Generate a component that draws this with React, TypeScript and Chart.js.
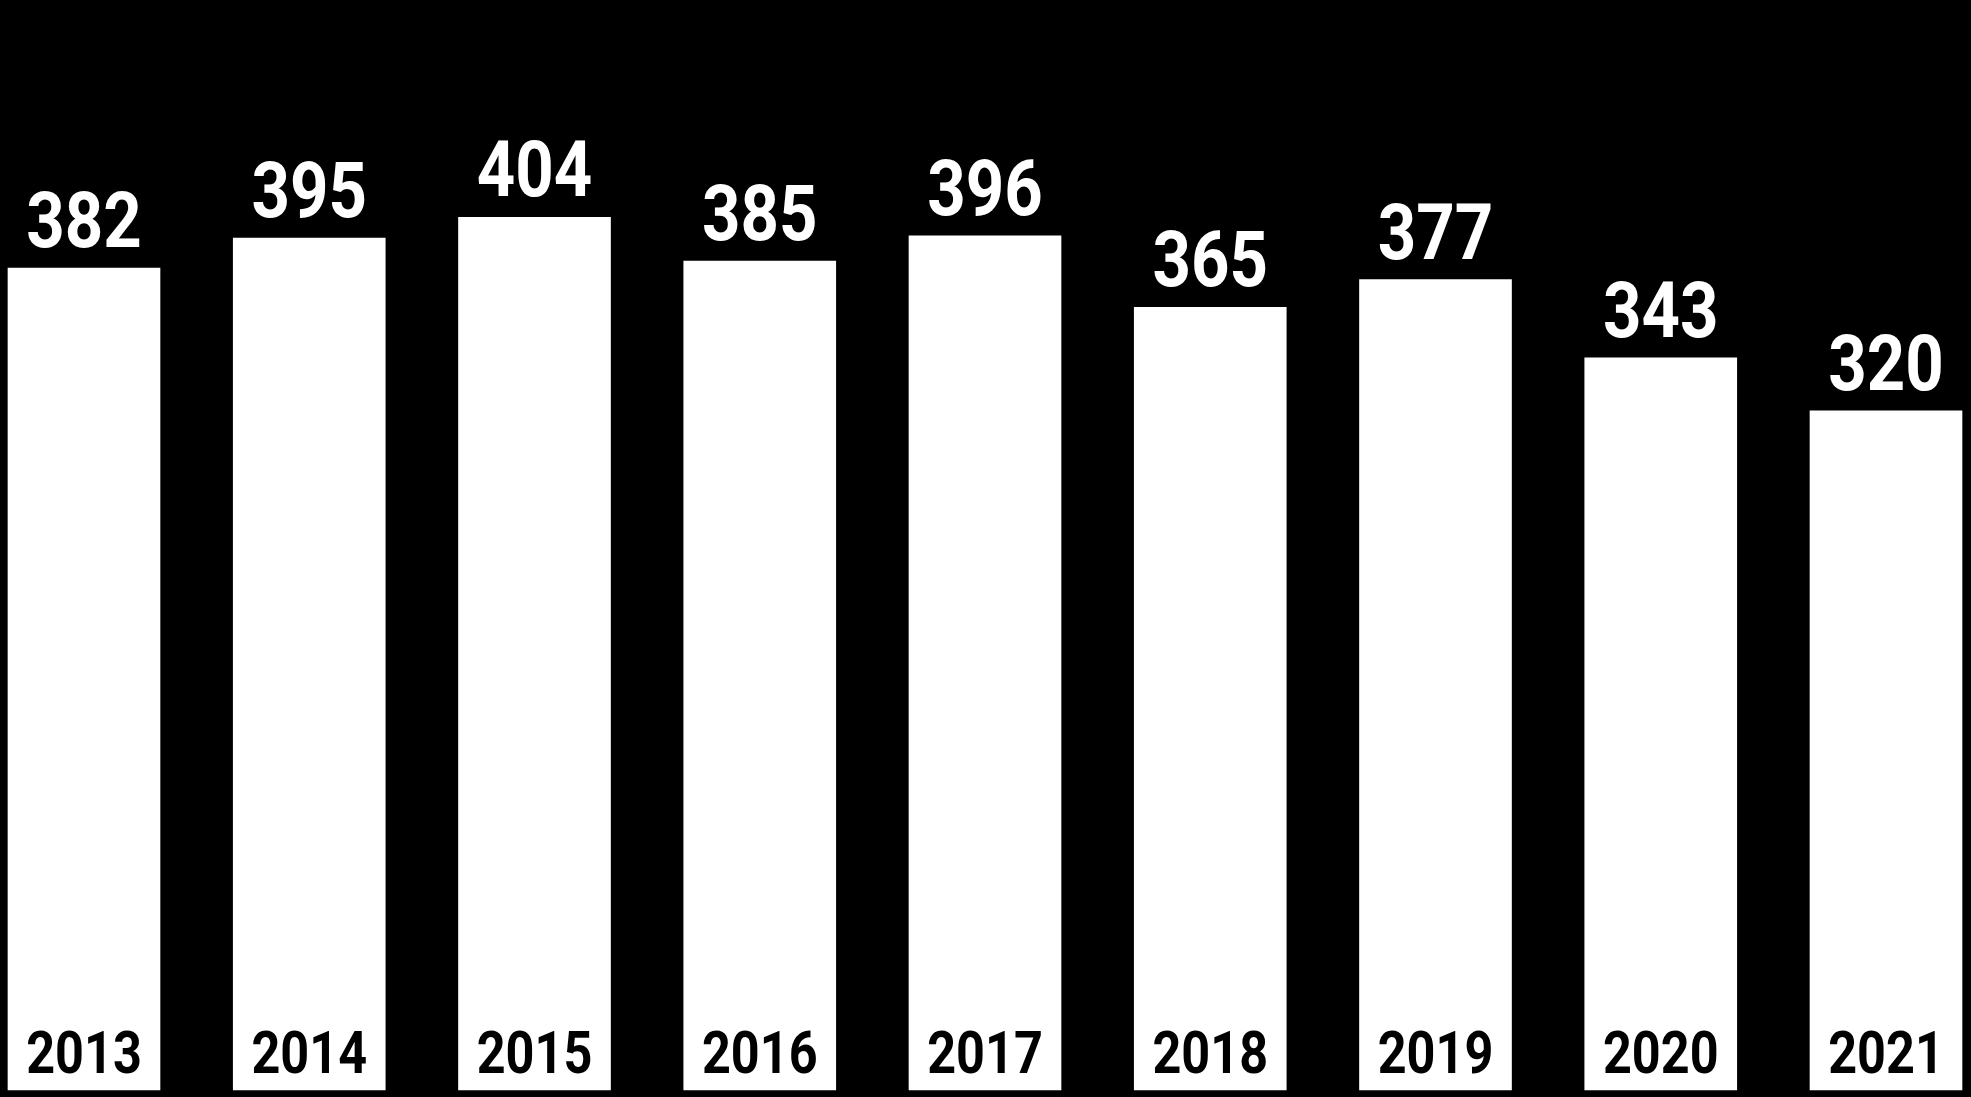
import React, { useEffect, useRef } from "react";
import { Chart, registerables } from "chart.js";

Chart.register(...registerables);

const years = ["2013", "2014", "2015", "2016", "2017", "2018", "2019", "2020", "2021"];
const values = [382, 395, 404, 385, 396, 365, 377, 343, 320];
const Y_MIN = 25;
const Y_MAX = 455;

const FONT = 'Roboto, "DejaVu Sans", sans-serif';

function drawSquashed(ctx: any, text: string, x: number, y: number, sx: number) {
  ctx.save();
  ctx.translate(x, y);
  ctx.scale(sx, 1);
  ctx.fillText(text, 0, 0);
  ctx.restore();
}

const labelPlugin = {
  id: "barLabels",
  afterDatasetsDraw(chart: any) {
    const ctx = chart.ctx;
    const meta = chart.getDatasetMeta(0);
    ctx.save();
    ctx.textAlign = "center";
    ctx.textBaseline = "alphabetic";
    meta.data.forEach((bar: any, i: number) => {
      ctx.fillStyle = "#ffffff";
      ctx.font = `bold 78px ${FONT}`;
      drawSquashed(ctx, String(values[i]), bar.x, bar.y - 21, 0.86);
      ctx.fillStyle = "#000000";
      ctx.font = `bold 60px ${FONT}`;
      drawSquashed(ctx, years[i], bar.x, bar.base - 17, 0.84);
    });
    ctx.restore();
  },
};

export default function App() {
  const ref = useRef<HTMLCanvasElement>(null);
  useEffect(() => {
    document.body.style.margin = "0";
    const chart = new Chart(ref.current!, {
      type: "bar",
      data: {
        labels: years,
        datasets: [
          {
            data: values,
            backgroundColor: "#ffffff",
            borderWidth: 0,
            barThickness: 152,
            base: Y_MIN,
            clip: false as any,
          },
        ],
      },
      options: {
        responsive: false,
        animation: false,
        devicePixelRatio: 1,
        layout: { padding: { left: 84, right: 85, top: 100, bottom: 7 } },
        plugins: { legend: { display: false }, tooltip: { enabled: false } },
        scales: {
          x: { display: false, offset: false, grid: { display: false } },
          y: { display: false, min: Y_MIN, max: Y_MAX, grid: { display: false } },
        },
      },
      plugins: [labelPlugin],
    });
    return () => chart.destroy();
  }, []);
  return (
    <div style={{ position: "fixed", left: 0, top: 0, width: 1971, height: 1097, background: "#000" }}>
      <canvas ref={ref} width={1971} height={1097} style={{ width: 1971, height: 1097, display: "block" }} />
    </div>
  );
}
